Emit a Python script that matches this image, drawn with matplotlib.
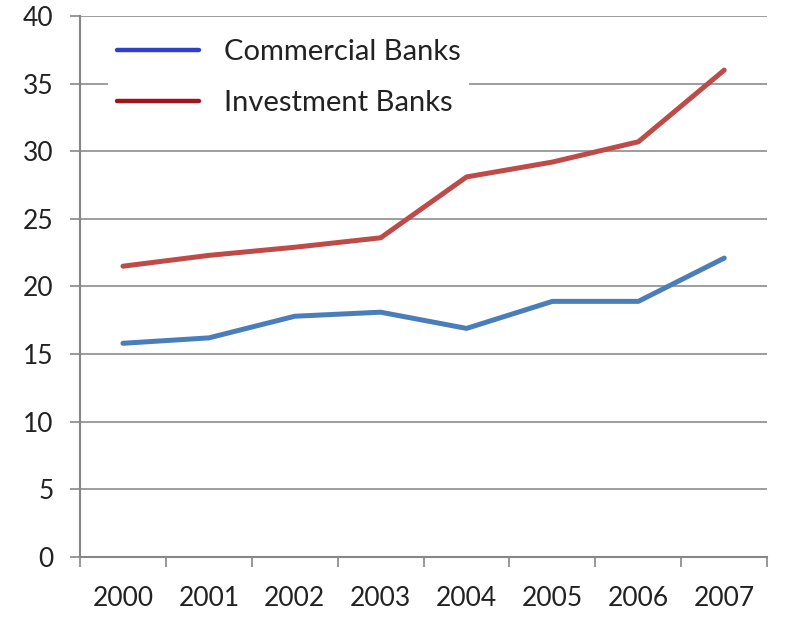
import matplotlib.pyplot as plt

years = ["2000", "2001", "2002", "2003", "2004", "2005", "2006", "2007"]
commercial = [15.8, 16.2, 17.8, 18.1, 16.9, 18.9, 18.9, 22.1]
investment = [21.5, 22.3, 22.9, 23.6, 28.1, 29.2, 30.7, 36.0]
yticks = [0, 5, 10, 15, 20, 25, 30, 35, 40]

plt.rcParams["font.family"] = ["Lato", "DejaVu Sans"]

fig = plt.figure(figsize=(8, 6.32), dpi=100)
ax = fig.add_axes([0.1, 0.1187, 0.859, 0.8560])

x = range(len(years))
l1, = ax.plot(x, commercial, color="#4a7ebb", lw=3.6, solid_capstyle="round",
              label="Commercial Banks", zorder=3)
l2, = ax.plot(x, investment, color="#be4b48", lw=3.6, solid_capstyle="round",
              label="Investment Banks", zorder=3)

ax.set_xlim(-0.5, len(years) - 0.5)
ax.set_ylim(0, 40)
ax.set_yticks(yticks)
ax.yaxis.grid(True, color="#8c8c8c", lw=1.2)
ax.set_axisbelow(True)

# category boundaries get the tick marks, labels sit in the middle
ax.set_xticks([i - 0.5 for i in range(len(years) + 1)])
ax.set_xticklabels([])
ax.set_xticks(list(x), minor=True)
ax.set_xticklabels(years, minor=True)
ax.tick_params(axis="x", which="major", direction="out", length=7.2,
               width=1.2, color="#868686")
ax.tick_params(axis="x", which="minor", length=0, pad=21, labelsize=19,
               labelcolor="#222222")
ax.tick_params(axis="y", direction="out", length=7.2, width=1.2,
               color="#868686", pad=12, labelsize=19, labelcolor="#222222")

for s in ["top", "right"]:
    ax.spines[s].set_visible(False)
for s in ["left", "bottom"]:
    ax.spines[s].set_color("#868686")
    ax.spines[s].set_linewidth(1.5)

leg = ax.legend(handles=[l1, l2], loc="upper left", bbox_to_anchor=(0.02, 1.0),
                fontsize=21, handlelength=2.8, handletextpad=0.85,
                labelspacing=0.85, frameon=True, fancybox=False,
                facecolor="white", edgecolor="none", framealpha=1,
                borderpad=0.3)
for h, c in zip(leg.get_lines(), ["#2e3fd0", "#a0141a"]):
    h.set_color(c)
    h.set_linewidth(3.2)
for t in leg.get_texts():
    t.set_color("#222222")

fig.savefig("out.png", dpi=100)
